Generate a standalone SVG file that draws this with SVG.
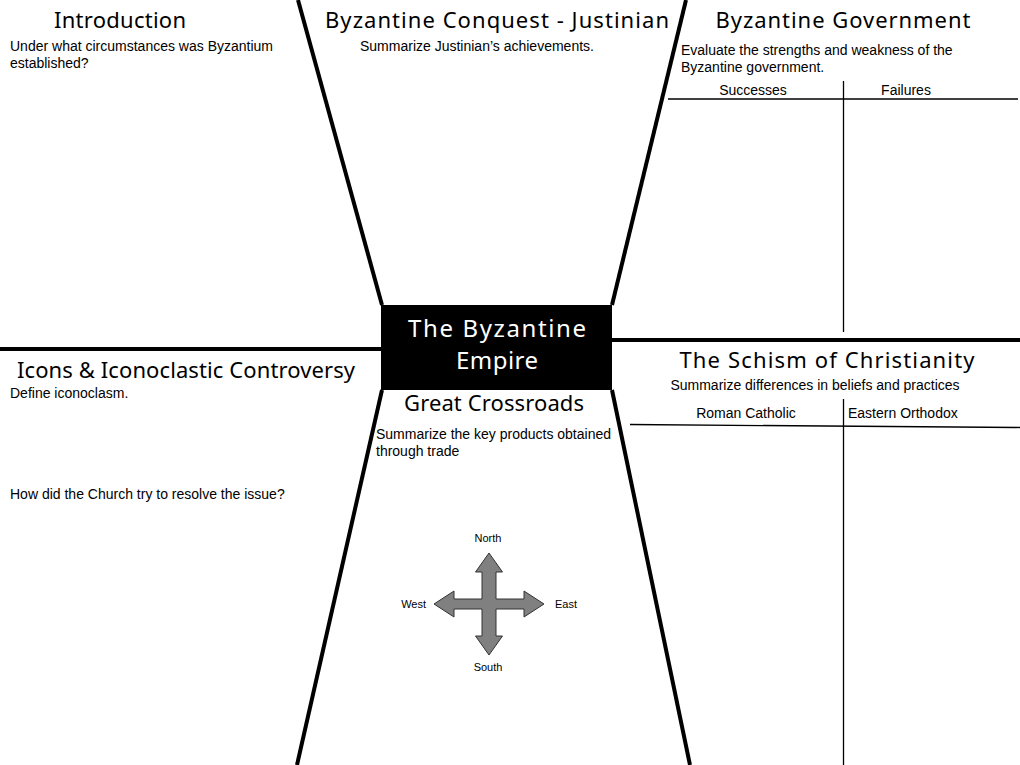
<svg xmlns="http://www.w3.org/2000/svg" width="1020" height="765" viewBox="0 0 1020 765">
<style>
.hand{font-family:"Noto Sans","DejaVu Sans",sans-serif;font-size:22px;fill:#000;text-anchor:middle;}
.body{font-family:"Liberation Sans",Arial,sans-serif;font-size:14px;fill:#000;}
.small{font-family:"Liberation Sans",Arial,sans-serif;font-size:11px;fill:#000;}
.div{stroke:#000;stroke-width:4;fill:none;stroke-linecap:butt;}
.tbl{stroke:#000;stroke-width:1.3;fill:none;}
</style>
<rect width="1020" height="765" fill="#fff"/>
<g id="connectors">
<line class="div" x1="298" y1="0" x2="382" y2="305"/>
<line class="div" x1="686" y1="0" x2="612" y2="305"/>
<line class="div" x1="382" y1="390" x2="297" y2="765"/>
<line class="div" x1="612" y1="390" x2="690" y2="765"/>
<line class="div" x1="0" y1="349" x2="382" y2="349"/>
<line class="div" x1="612" y1="340" x2="1020" y2="340"/>
<line class="tbl" x1="668" y1="99" x2="1018" y2="99"/>
<line class="tbl" x1="843.5" y1="81" x2="843.5" y2="332"/>
<line class="tbl" x1="630" y1="424.5" x2="1020" y2="427.5"/>
<line class="tbl" x1="843.5" y1="399" x2="843.5" y2="765"/>
</g>
<g id="introduction">
<text class="hand" x="120" y="28" textLength="132">Introduction</text>
<text class="body" x="10" y="51">Under what circumstances was Byzantium</text>
<text class="body" x="10" y="68">established?</text>
</g>
<g id="justinian">
<text class="hand" x="497" y="28" textLength="344">Byzantine Conquest - Justinian</text>
<text class="body" x="360" y="51">Summarize Justinian’s achievements.</text>
</g>
<g id="government">
<text class="hand" x="843" y="28" textLength="255">Byzantine Government</text>
<text class="body" x="681" y="55">Evaluate the strengths and weakness of the</text>
<text class="body" x="681" y="72">Byzantine government.</text>
<text class="body" x="753" y="95" text-anchor="middle">Successes</text>
<text class="body" x="906" y="95" text-anchor="middle">Failures</text>
</g>
<g id="center">
<rect x="381" y="305" width="231" height="85" fill="#000"/>
<text class="hand" x="497" y="337" style="fill:#fff;font-size:24px" textLength="178">The Byzantine</text>
<text class="hand" x="497" y="369" style="fill:#fff;font-size:24px" textLength="82">Empire</text>
</g>
<g id="icons">
<text class="hand" x="186" y="378" textLength="338">Icons &amp; Iconoclastic Controversy</text>
<text class="body" x="10" y="398">Define iconoclasm.</text>
<text class="body" x="10" y="499">How did the Church try to resolve the issue?</text>
</g>
<g id="crossroads">
<text class="hand" x="494" y="411" textLength="180">Great Crossroads</text>
<text class="body" x="376" y="439">Summarize the key products obtained</text>
<text class="body" x="376" y="456">through trade</text>
<polygon points="489,553 502.5,572 496,572 496,599 524,599 524,591 544,604 524,617 524,609 496,609 496,636 502.5,636 489,655 475.5,636 482,636 482,609 454,609 454,617 434,604 454,591 454,599 482,599 482,572 475.5,572" fill="#808080" stroke="#333" stroke-width="1"/>
<text class="small" x="488" y="542" text-anchor="middle">North</text>
<text class="small" x="488" y="671" text-anchor="middle">South</text>
<text class="small" x="426" y="608" text-anchor="end">West</text>
<text class="small" x="555" y="608">East</text>
</g>
<g id="schism">
<text class="hand" x="827" y="368" textLength="295">The Schism of Christianity</text>
<text class="body" x="815" y="390" text-anchor="middle">Summarize differences in beliefs and practices</text>
<text class="body" x="746" y="418" text-anchor="middle">Roman Catholic</text>
<text class="body" x="848" y="418">Eastern Orthodox</text>
</g>
</svg>
